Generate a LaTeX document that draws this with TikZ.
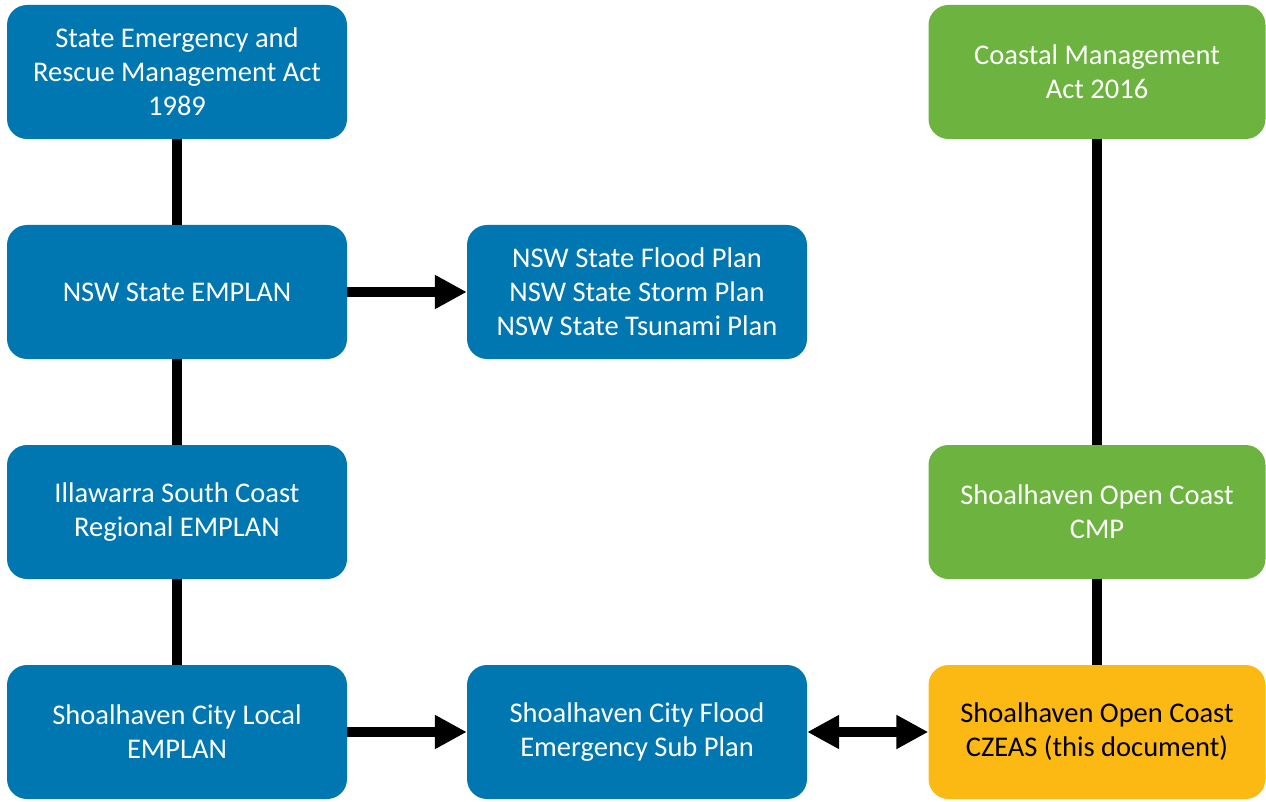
\documentclass[tikz,border=0pt]{standalone}
\usepackage{fontspec}
\setmainfont{Carlito}
\usepackage{tikz}
\usetikzlibrary{arrows.meta}

\definecolor{planblue}{RGB}{0,119,176}
\definecolor{coastgreen}{RGB}{109,179,63}
\definecolor{docyellow}{RGB}{252,184,19}

\begin{document}
\begin{tikzpicture}[x=1pt,y=-1pt,
  box/.style={rounded corners=20pt,minimum width=340pt,minimum height=134pt,
    inner sep=0pt,align=center,text=white,
    font=\fontsize{28.5}{34}\selectfont},
  link/.style={line width=10pt},
  tip/.style={line width=10pt,-{Triangle[length=32pt,width=32pt]}}]

\useasboundingbox (0,0) rectangle (1266,802);

% emergency management plans
\node[box,fill=planblue] (sera) at (177,72){State Emergency and\\Rescue Management Act\\1989};
\node[box,fill=planblue] (state) at (177,292){NSW State EMPLAN};
\node[box,fill=planblue] (illawarra) at (177,512){Illawarra South Coast\\Regional EMPLAN};
\node[box,fill=planblue] (local) at (177,732){Shoalhaven City Local\\EMPLAN};
\node[box,fill=planblue] (hazards) at (637,292){NSW State Flood Plan\\NSW State Storm Plan\\NSW State Tsunami Plan};
\node[box,fill=planblue] (subplan) at (637,732){Shoalhaven City Flood\\Emergency Sub Plan};

% coastal management
\node[box,fill=coastgreen,minimum width=337pt] (cmact) at (1097,72){Coastal Management\\Act 2016};
\node[box,fill=coastgreen,minimum width=337pt] (cmp) at (1097,512){Shoalhaven Open Coast\\CMP};
\node[box,fill=docyellow,text=black,minimum width=337pt] (czeas) at (1097,732){Shoalhaven Open Coast\\CZEAS (this document)};

% links
\draw[link] (sera)--(state);
\draw[link] (state)--(illawarra);
\draw[link] (illawarra)--(local);
\draw[link] (cmact)--(cmp);
\draw[link] (cmp)--(czeas);

\draw[tip] (state)--(hazards);
\draw[tip] (local)--(subplan);
\draw[line width=10pt,{Triangle[length=32pt,width=32pt]}-{Triangle[length=32pt,width=32pt]}] (subplan)--(czeas);

\end{tikzpicture}
\end{document}
